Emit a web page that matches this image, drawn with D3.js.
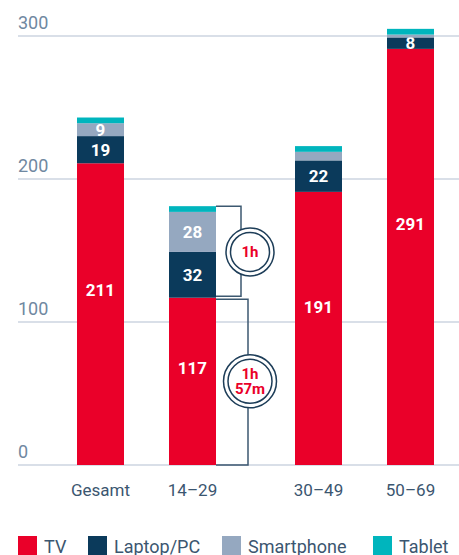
<!DOCTYPE html>
<html>
<head>
<meta charset="utf-8">
<script src="https://cdn.jsdelivr.net/npm/d3@7"></script>
<style>
  html, body { margin: 0; padding: 0; background: #fff; }
  svg { display: block; font-family: Roboto, "DejaVu Sans", sans-serif; }
</style>
</head>
<body>
<svg id="chart" width="459" height="555"></svg>
<script>
// DATA
const categories = ["Gesamt", "14–29", "30–49", "50–69"];
const series = ["TV", "Laptop/PC", "Smartphone", "Tablet"];
const tv = [211, 117, 191, 291];
const laptop = [19, 32, 22, 8];
const smartphone = [9, 28, 6, 2];
const tablet = [4, 4, 4, 4];
const yTicks = [0, 100, 200, 300];
const brackets = [
    { from: 117, to: 181, label: ["1h"] },
    { from: 0, to: 117, label: ["1h", "57m"] }
];

const colors = ["#ea0029", "#0b3a5b", "#95a8c0", "#00b5bd"];

const width = 459;
const margin = { left: 18, right: 0, top: 36, bottom: 90 };
const svg = d3.select("svg#chart");

const rows = categories.map((c, i) => ({
    name: c,
    "TV": tv[i],
    "Laptop/PC": laptop[i],
    "Smartphone": smartphone[i],
    "Tablet": tablet[i]
}));

// SCALES
const yScale = d3.scaleLinear()
    .domain([0, 300])
    .range([465, margin.top]);

const gap = 34; // room for the bracket annotations after 14–29
const xBand = d3.scaleBand()
    .domain(categories)
    .range([77, 434 - gap])
    .paddingInner(45 / 92)
    .paddingOuter(0);
const xScale = d => xBand(d) + (categories.indexOf(d) > 1 ? gap : 0);

const color = d3.scaleOrdinal().domain(series).range(colors);

// GRID
const grid = svg.append("g");
grid.selectAll("line")
    .data(yTicks)
    .join("line")
    .attr("x1", margin.left)
    .attr("x2", width)
    .attr("y1", d => yScale(d))
    .attr("y2", d => yScale(d))
    .attr("stroke", "#cdd5e0")
    .attr("stroke-width", 1.5);

grid.selectAll("text")
    .data(yTicks)
    .join("text")
    .attr("x", margin.left)
    .attr("y", d => yScale(d) - 7)
    .attr("fill", "#6f88a1")
    .attr("font-size", 18)
    .text(d => d);

// BARS
const stack = d3.stack().keys(series)(rows);

const layers = svg.append("g").selectAll("g")
    .data(stack)
    .join("g")
    .attr("fill", d => color(d.key));

layers.selectAll("rect")
    .data(d => d)
    .join("rect")
    .attr("x", d => xScale(d.data.name))
    .attr("y", d => yScale(d[1]))
    .attr("height", d => yScale(d[0]) - yScale(d[1]))
    .attr("width", xBand.bandwidth());

// TV labels sit a bit above the middle of the red segment
const labelAt = (s, key) => key === "TV" ? s[0] + 0.58 * (s[1] - s[0]) : (s[0] + s[1]) / 2;

layers.filter(d => d.key !== "Tablet")
    .each(function (layer) {
        d3.select(this).selectAll("text")
            .data(layer.filter(s => s[1] - s[0] >= 8))
            .join("text")
            .attr("x", d => xScale(d.data.name) + xBand.bandwidth() / 2)
            .attr("y", d => yScale(labelAt(d, layer.key)))
            .attr("dy", "0.36em")
            .attr("text-anchor", "middle")
            .attr("fill", "#fff")
            .attr("font-size", 17)
            .attr("font-weight", "bold")
            .text(d => d[1] - d[0]);
    });

// X LABELS
svg.append("g").selectAll("text")
    .data(categories)
    .join("text")
    .attr("x", d => xScale(d) + xBand.bandwidth() / 2)
    .attr("y", 496)
    .attr("text-anchor", "middle")
    .attr("fill", "#3b5670")
    .attr("font-size", 17)
    .text(d => d);

// BRACKETS for 14–29
const bx = xScale("14–29") + xBand.bandwidth();
const ann = svg.append("g");
brackets.forEach((b, i) => {
    const reach = i === 0 ? 25 : 32;
    const y0 = yScale(b.from) - (i === 0 ? 1.5 : 0);
    const y1 = yScale(b.to) + (i === 1 ? 1.5 : 0);
    ann.append("path")
        .attr("d", `M${bx},${y1}H${bx + reach}V${y0}H${bx}`)
        .attr("fill", "none")
        .attr("stroke", "#3c5870")
        .attr("stroke-width", 1.5);
    const cy = yScale((b.from + b.to) / 2);
    const cx = bx + 34;
    const r = i === 0 ? 24 : 26.5;
    ann.append("circle").attr("cx", cx).attr("cy", cy).attr("r", r)
        .attr("fill", "#fff").attr("stroke", "#1d3d58").attr("stroke-width", 1.5);
    ann.append("circle").attr("cx", cx).attr("cy", cy).attr("r", r - 4.5)
        .attr("fill", "none").attr("stroke", "#1d3d58").attr("stroke-width", 1.5);
    ann.selectAll(null)
        .data(b.label)
        .join("text")
        .attr("x", cx)
        .attr("y", (l, j) => cy + (j - (b.label.length - 1) / 2) * 15)
        .attr("dy", "0.36em")
        .attr("text-anchor", "middle")
        .attr("fill", "#ea0029")
        .attr("font-size", 15)
        .attr("font-weight", "bold")
        .text(l => l);
});

// LEGEND
const legendX = d3.scaleOrdinal().domain(series).range([18, 88, 222, 373]);
const legend = svg.append("g").selectAll("g")
    .data(series)
    .join("g")
    .attr("transform", d => `translate(${legendX(d)},536)`);
legend.append("rect")
    .attr("width", 19)
    .attr("height", 19)
    .attr("fill", d => color(d));
legend.append("text")
    .attr("x", 26)
    .attr("y", 17)
    .attr("fill", "#3b5670")
    .attr("font-size", 18)
    .text(d => d);
</script>
</body>
</html>
